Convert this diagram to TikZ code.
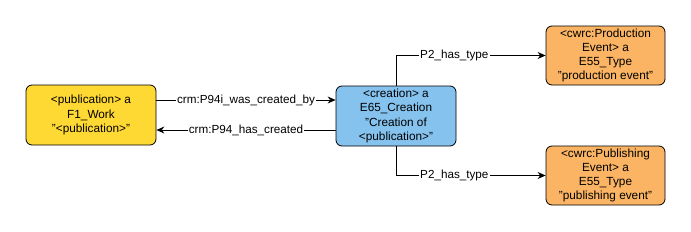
\documentclass[tikz,border=0pt]{standalone}
\usepackage{fontspec}
\setmainfont{Liberation Sans}
\usetikzlibrary{arrows.meta}
\definecolor{pubyellow}{HTML}{FFD933}
\definecolor{creblue}{HTML}{85C2EE}
\definecolor{typeorange}{HTML}{FAB464}
\begin{document}
\begin{tikzpicture}[x=1pt,y=-1pt,
  box/.style={draw=black, line width=0.8pt, rounded corners=6pt, align=center,
    font=\fontsize{11.8}{14.2}\selectfont, inner sep=0pt},
  arr/.style={draw=black, line width=0.8pt, -{Stealth[length=8pt,width=7pt]}},
  lbl/.style={fill=white, inner sep=1pt, font=\fontsize{11.7}{13}\selectfont}]
\useasboundingbox[fill=white] (0,0) rectangle (691,231);
\node[box, fill=pubyellow, minimum width=130pt, minimum height=60pt] (pub) at (91,115)
  {<publication> a\\F1\_Work\\"<publication>"};
\node[box, fill=creblue, minimum width=120pt, minimum height=60pt] (cre) at (396,116)
  {<creation> a\\E65\_Creation\\"Creation of\\<publication>"};
\node[box, fill=typeorange, minimum width=119pt, minimum height=59pt] (prod) at (605.5,55.5)
  {<cwrc:Production\\Event> a\\E55\_Type\\"production event"};
\node[box, fill=typeorange, minimum width=119pt, minimum height=59pt] (publ) at (605.5,175.5)
  {<cwrc:Publishing\\Event> a\\E55\_Type\\"publishing event"};
\draw[arr] (pub.east |- 0,100) -- node[lbl]{crm:P94i\_was\_created\_by} (cre.west |- 0,100);
\draw[arr] (cre.west |- 0,130) -- node[lbl]{crm:P94\_has\_created} (pub.east |- 0,130);
\draw[arr] (cre.north) -- (cre.north |- prod.west) -- node[lbl,pos=0.39]{P2\_has\_type} (prod.west);
\draw[arr] (cre.south) -- (cre.south |- publ.west) -- node[lbl,pos=0.39]{P2\_has\_type} (publ.west);
\end{tikzpicture}
\end{document}
